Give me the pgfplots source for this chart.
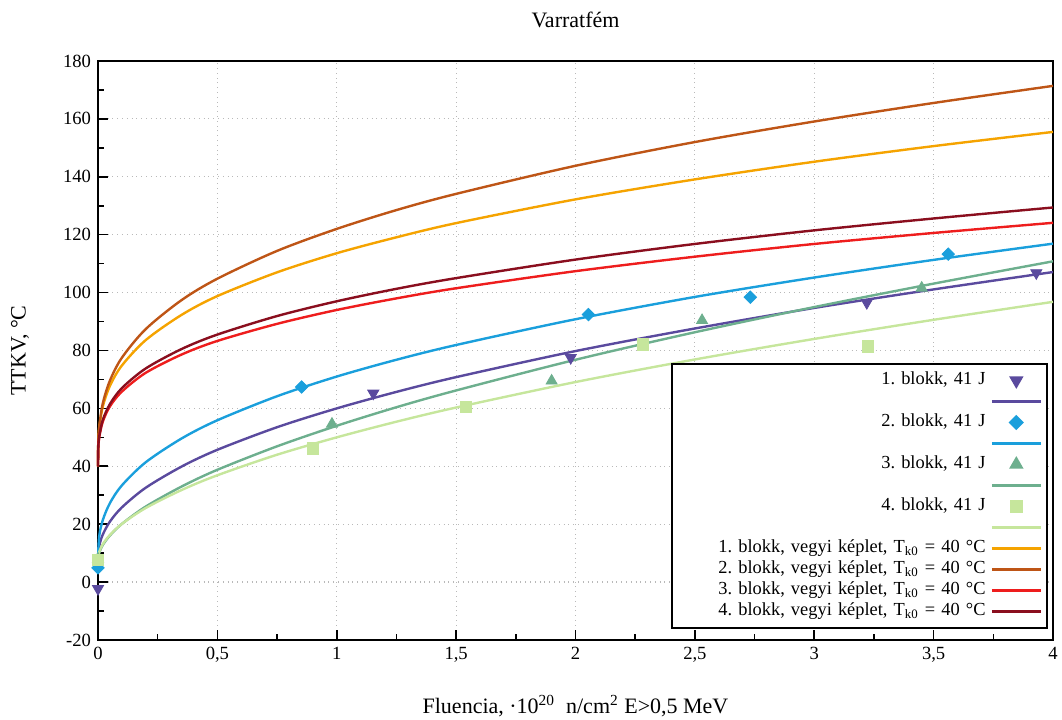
\documentclass[border=0pt]{standalone}
\usepackage{fontspec}
\setmainfont{Liberation Serif}
\usepackage{pgfplots}
\pgfplotsset{compat=1.18}

\definecolor{cA}{HTML}{5A4A9E}
\definecolor{cB}{HTML}{1A9FDC}
\definecolor{cC}{HTML}{6DAF8E}
\definecolor{cD}{HTML}{C6E69C}
\definecolor{cE}{HTML}{F5A300}
\definecolor{cF}{HTML}{BE5516}
\definecolor{cG}{HTML}{EE1D1D}
\definecolor{cH}{HTML}{8A0E1E}

\begin{document}
\frenchspacing
\begin{tikzpicture}
\begin{axis}[
    scale only axis,
    width=477.5pt, height=289.5pt,
    xmin=0, xmax=4, ymin=-20, ymax=180,
    xtick={0,0.5,...,4}, minor x tick num=1,
    ytick={-20,0,...,180}, minor y tick num=1,
    xtick pos=bottom, ytick pos=left,
    tick align=inside,
    major tick length=5pt, minor tick length=3pt,
    tick style={black, line width=0.8pt},
    axis line style={line width=1pt},
    grid=major,
    major grid style={dotted, gray!55, line width=0.6pt},
    /pgf/number format/assume math mode=true,
    /pgf/number format/use comma,
    ticklabel style={font=\fontsize{9.3}{11}\selectfont},
    every axis title shift=0pt,
    title={Varratfém},
    title style={at={(axis description cs:0.5,1.0708)}, anchor=center, font=\fontsize{11}{13}\selectfont},
    xlabel={Fluencia, ·10\textsuperscript{20}\ \ n/cm\textsuperscript{2} E>0,5 MeV},
    xlabel style={at={(axis description cs:0.5,-0.114)}, anchor=center, font=\fontsize{11}{13}\selectfont},
    ylabel={TTKV, °C},
    ylabel style={at={(axis description cs:-0.0817,0.5)}, anchor=center, font=\fontsize{11}{13}\selectfont},
    clip=false,
    legend plot pos=right,
    legend cell align=right,
    legend image code/.code={\draw[mark repeat=2,mark phase=2,#1] plot coordinates {(0pt,0pt) (12.25pt,0pt) (24.5pt,0pt)};},
    legend style={at={(axis description cs:0.9948,0.019)}, anchor=south east,
        draw=black, line width=1pt, inner xsep=2.5pt, inner ysep=3pt, row sep=0pt,
        font=\fontsize{9.2}{11}\selectfont,
        nodes={inner xsep=2.5pt, inner ysep=0pt, text height=7.5pt, text depth=3pt},
        /tikz/every odd column/.append style={text width=152pt, align=right}},
]
\coordinate (bl) at (rel axis cs:0,0);
\coordinate (tr) at (rel axis cs:1,1);

% 1. blokk
\addplot[only marks, mark=triangle*, mark size=3.2pt, color=cA, mark options={rotate=180}] coordinates {
    (0,-2.3) (1.153,65.2) (1.98,77.5) (3.22,96.5) (3.93,106.8)
};
\addlegendentry{1. blokk, 41 J}
\addplot[color=cA, line width=1.2pt, no marks, smooth, tension=0.5] coordinates {
    (0,8) (0.005,12.4) (0.02,16.4) (0.05,20.9) (0.1,25.8) (0.2,32.6) (0.35,39.9) (0.5,45.7)
    (0.75,53.5) (1,60.0) (1.25,65.7) (1.5,70.8) (2,79.8) (2.5,87.6) (3,94.7) (3.5,101.1) (4,107.1)
};
\addlegendentry{}

% 2. blokk
\addplot[only marks, mark=square*, mark size=2.2pt, color=cB, mark options={rotate=45}] coordinates {
    (0,4.9) (0.853,67.4) (2.054,92.4) (2.732,98.4) (3.561,113.3)
};
\addlegendentry{2. blokk, 41 J}
\addplot[color=cB, line width=1.2pt, no marks, smooth, tension=0.5] coordinates {
    (0,8) (0.005,15.8) (0.02,21.4) (0.05,27.3) (0.1,33.4) (0.2,41.4) (0.35,49.6) (0.5,55.9)
    (0.75,64.2) (1,71.0) (1.25,76.8) (1.5,81.9) (2,90.8) (2.5,98.5) (3,105.2) (3.5,111.3) (4,116.9)
};
\addlegendentry{}

% 3. blokk
\addplot[only marks, mark=triangle*, mark size=3.2pt, color=cC] coordinates {
    (0,8) (0.98,54.6) (1.90,69.5) (2.53,90.4) (3.45,101.6)
};
\addlegendentry{3. blokk, 41 J}
\addplot[color=cC, line width=1.2pt, no marks, smooth, tension=0.5] coordinates {
    (0,8) (0.005,10.1) (0.02,12.8) (0.05,16.1) (0.1,20.1) (0.2,26.1) (0.35,33.0) (0.5,38.8)
    (0.75,46.9) (1,54.0) (1.25,60.4) (1.5,66.2) (2,76.8) (2.5,86.3) (3,95.0) (3.5,103.1) (4,110.8)
};
\addlegendentry{}

% 4. blokk
\addplot[only marks, mark=square*, mark size=2.8pt, color=cD] coordinates {
    (0,7.6) (0.9,46.2) (1.541,60.4) (2.282,82.1) (3.223,81.4)
};
\addlegendentry{4. blokk, 41 J}
\addplot[color=cD, line width=1.2pt, no marks, smooth, tension=0.5] coordinates {
    (0,8) (0.005,10.4) (0.02,13.1) (0.05,16.3) (0.1,20.1) (0.2,25.6) (0.35,31.8) (0.5,36.9)
    (0.75,44.0) (1,50.0) (1.25,55.4) (1.5,60.3) (2,69.1) (2.5,76.9) (3,84.0) (3.5,90.6) (4,96.8)
};
\addlegendentry{}

% vegyi keplet
\addplot[color=cE, line width=1.2pt, no marks, smooth, tension=0.5] coordinates {
    (0,40) (0.001,47.8) (0.005,53.2) (0.02,60.6) (0.05,67.8) (0.1,74.8) (0.2,83.6) (0.35,92.3) (0.5,98.8)
    (0.75,107.0) (1,113.6) (1.25,119.1) (1.5,124.0) (2,132.2) (2.5,139.1) (3,145.2) (3.5,150.6) (4,155.5)
};
\addlegendentry{1. blokk, vegyi képlet, T\textsubscript{k0} = 40 °C}
\addplot[color=cF, line width=1.2pt, no marks, smooth, tension=0.5] coordinates {
    (0,40) (0.001,47.8) (0.005,53.5) (0.02,61.7) (0.05,69.6) (0.1,77.5) (0.2,87.4) (0.35,97.4) (0.5,104.8)
    (0.75,114.4) (1,122.0) (1.25,128.5) (1.5,134.1) (2,143.8) (2.5,152.0) (3,159.1) (3.5,165.5) (4,171.4)
};
\addlegendentry{2. blokk, vegyi képlet, T\textsubscript{k0} = 40 °C}
\addplot[color=cG, line width=1.2pt, no marks, smooth, tension=0.5] coordinates {
    (0,40) (0.001,45.9) (0.005,49.9) (0.02,55.4) (0.05,60.7) (0.1,65.8) (0.2,72.3) (0.35,78.6) (0.5,83.3)
    (0.75,89.2) (1,94.0) (1.25,98.0) (1.5,101.5) (2,107.4) (2.5,112.4) (3,116.8) (3.5,120.6) (4,124.1)
};
\addlegendentry{3. blokk, vegyi képlet, T\textsubscript{k0} = 40 °C}
\addplot[color=cH, line width=1.2pt, no marks, smooth, tension=0.5] coordinates {
    (0,40) (0.001,46.0) (0.005,50.2) (0.02,56.0) (0.05,61.5) (0.1,67.0) (0.2,73.8) (0.35,80.5) (0.5,85.5)
    (0.75,91.9) (1,97.0) (1.25,101.3) (1.5,105.0) (2,111.4) (2.5,116.8) (3,121.5) (3.5,125.6) (4,129.4)
};
\addlegendentry{4. blokk, vegyi képlet, T\textsubscript{k0} = 40 °C}
\end{axis}
\pgfresetboundingbox
\path[use as bounding box] ([xshift=-49pt,yshift=-40pt]bl) rectangle ([xshift=4.5pt,yshift=30.5pt]tr);
\end{tikzpicture}
\end{document}
